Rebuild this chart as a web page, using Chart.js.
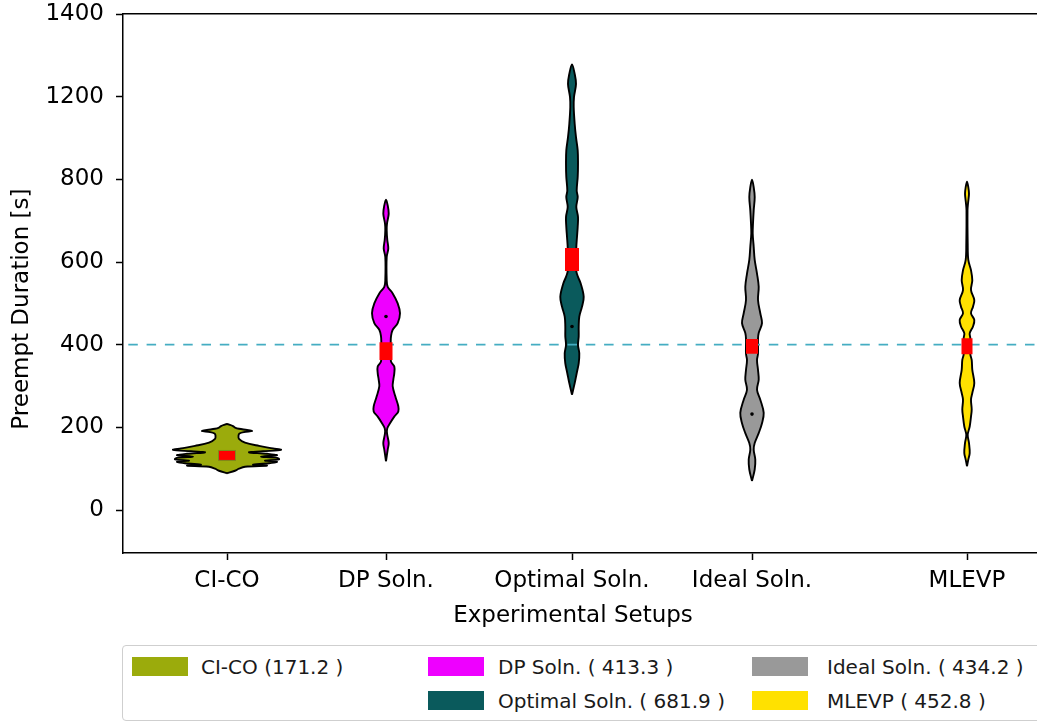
<!DOCTYPE html>
<html><head><meta charset="utf-8">
<script src="https://cdn.jsdelivr.net/npm/chart.js@4/dist/chart.umd.min.js"></script>
<style>
html,body{margin:0;padding:0;background:#fff;overflow:hidden;width:1037px;height:723px;}
#wrap{position:absolute;left:0;top:0;width:1050px;height:640px;}
#legend{position:absolute;left:122px;top:645px;width:940px;height:76px;border:1px solid #cfcfcf;border-radius:4px;box-sizing:border-box;font-family:'DejaVu Sans';font-size:20px;color:#1a1a1a;background:#fff;}
.sw{position:absolute;width:56px;height:19px;}
.lt{position:absolute;white-space:nowrap;line-height:24px;}
</style></head><body>
<div id="wrap"><canvas id="c" width="1050" height="640"></canvas></div>
<div id="legend"></div>
<script>
// ---------------- data ----------------
const categories = ['CI-CO', 'DP Soln.', 'Optimal Soln.', 'Ideal Soln.', 'MLEVP'];
const legendLabels = ['CI-CO (171.2 )', 'DP Soln. ( 413.3 )', 'Optimal Soln. ( 681.9 )', 'Ideal Soln. ( 434.2 )', 'MLEVP ( 452.8 )'];
const yTickValues = [0, 200, 400, 600, 800, 1000, 1200];
const yTickLabels = ['0', '200', '400', '600', '800', '1200', '1400'];
const threshold = 400;

// violin profiles: [value, half-width of density], top to bottom
const violinCICO = [[208,0],[206,3],[203,6],[199.5,8],[196.5,12],[193.5,20],[191,25],[188.5,17],[185,12.5],[180,11.5],[172,12],[163,18],[155,32],[149,46],[145.5,54],[142,36],[139.5,22],[136,40],[132.5,50],[129,34],[126,50],[122.5,52],[119.5,38],[116.5,50],[113,42],[110,26],[107.5,40],[104.5,18],[100,12],[95,8],[89,0]];
const violinDP = [[751,0],[737,1.7],[717,2.7],[693,1],[677,0.7],[653,1.3],[633,2.3],[612,0.7],[556,0.7],[540,1.7],[524,6.7],[500,11.7],[476,14],[452,11.7],[436,6.7],[420,5],[406,4.7],[379,4.7],[359,5],[347,8.3],[331,8.3],[315,7.3],[299,6.7],[275,9.3],[251,12.3],[238,12.3],[226,8.3],[210,4],[198,1.3],[186,1],[162,2.7],[146,1.7],[118,0]];
const violinOptimal = [[1078,0],[1055,2.7],[1031,4],[999,2],[975,1.7],[934,2.7],[902,4],[870,5.7],[838,6],[806,5.7],[773,4.7],[757,5.7],[733,4.3],[709,6],[685,5.7],[661,5],[634,4.3],[578,4.3],[564,6],[548,8.7],[516,11.7],[492,10],[468,7.3],[444,6.7],[420,6.7],[399,6],[379,7.3],[355,6.7],[331,4.7],[307,2.7],[279,0]];
const violinIdeal = [[799,0],[781,1.7],[757,2.7],[725,1.7],[693,1],[669,0.7],[637,1.7],[605,2.7],[572,5],[540,6.7],[508,6],[476,8.3],[452,10],[428,6.7],[414,6],[378,6],[363,5],[339,6],[315,6.7],[291,5],[267,8.3],[235,11.7],[210,10],[186,6.7],[162,2.7],[146,1.7],[122,3.3],[98,2.7],[70,0]];
const violinMLEVP = [[794,0],[781,1.3],[765,2],[741,1],[725,0.5],[645,0.7],[605,1.3],[580,4],[556,5.3],[532,4],[508,7.3],[492,6],[476,4],[460,7.3],[444,6],[428,2.7],[416,3.3],[377,3.3],[363,4.7],[339,5.3],[307,7.3],[283,5.3],[267,4],[243,4.7],[226,4],[202,2.7],[182,0.7],[162,2],[138,2.7],[122,1.3],[106,0]];

const boxLow  = [120, 363, 578, 378, 377];
const boxHigh = [144, 406, 634, 414, 415.5];
const medians = [null, 468, 444, 232, null];

// ---------------- layout / style ----------------
const xPos = [104, 263, 449, 629, 844];      // category centres on the x axis
const boxHalf = [8.5, 6.5, 7, 6, 5.5];
const colors = ['#9bab0c', '#ee00ff', '#0a5a5c', '#999999', '#ffe100'];
const profiles = [violinCICO, violinDP, violinOptimal, violinIdeal, violinMLEVP];

Chart.defaults.font.family = "'DejaVu Sans', sans-serif";
Chart.defaults.color = '#000';

const datasets = [];
profiles.forEach((prof, i) => {
  const c = xPos[i];
  const left = prof.slice().reverse().map(([y, w]) => ({x: c - w, y}));
  const right = prof.slice(1).map(([y, w]) => ({x: c + w, y}));
  datasets.push({
    label: categories[i], data: left.concat(right), fill: 'shape',
    backgroundColor: colors[i], borderColor: '#000', borderWidth: 1.9,
    pointRadius: 0, tension: 0.35, order: 10
  });
});
datasets.push({
  label: 'threshold', data: [{x: 0, y: threshold}, {x: 922, y: threshold}],
  borderColor: '#45adc2', borderWidth: 1.6, borderDash: [9.5, 8.8], borderDashOffset: 13,
  pointRadius: 0, fill: false, order: 5
});
boxLow.forEach((lo, i) => {
  const c = xPos[i], h = boxHalf[i], hi = boxHigh[i];
  datasets.push({
    label: 'box ' + categories[i],
    data: [{x: c - h, y: lo}, {x: c - h, y: hi}, {x: c + h, y: hi}, {x: c + h, y: lo}, {x: c - h, y: lo}],
    fill: 'shape', backgroundColor: '#ff0000',
    borderColor: i === 0 ? '#7d8c1a' : '#ff0000', borderWidth: i === 0 ? 1 : 0,
    pointRadius: 0, tension: 0, order: 2
  });
});
datasets.push({
  label: 'median',
  data: medians.map((m, i) => m === null ? null : {x: xPos[i], y: m}).filter(p => p),
  showLine: false, pointRadius: 1.8, pointBackgroundColor: '#000', pointBorderWidth: 0, order: 1
});

new Chart(document.getElementById('c'), {
  type: 'line',
  data: {datasets},
  options: {
    responsive: false, animation: false,
    layout: {padding: {left: 0, right: 5, top: 0, bottom: 6}},
    plugins: {legend: {display: false}, tooltip: {enabled: false}},
    scales: {
      x: {
        type: 'linear', min: 0, max: 922,
        afterBuildTicks: s => { s.ticks = xPos.map(v => ({value: v})); },
        afterFit: s => { s.height = 81; s.paddingLeft = 0; s.paddingRight = 0; },
        ticks: {autoSkip: false, maxRotation: 0, padding: 7, color: '#000', font: {size: 23},
                callback: (v, i) => categories[i]},
        grid: {drawOnChartArea: false, drawTicks: true, tickLength: 7, tickColor: '#000', tickWidth: 1.5},
        border: {display: true, color: '#000', width: 1.5},
        title: {display: true, text: 'Experimental Setups   ', color: '#000', font: {size: 23}, padding: {top: 0, bottom: 4}}
      },
      x2: {
        type: 'linear', position: 'top', min: 0, max: 1,
        afterFit: s => { s.height = 0; s.paddingLeft = 0; s.paddingRight = 0; },
        ticks: {display: false},
        grid: {drawOnChartArea: false, drawTicks: false},
        border: {display: true, color: '#000', width: 1.5}
      },
      y: {
        type: 'linear', min: -104, max: 1200,
        afterBuildTicks: s => { s.ticks = yTickValues.map(v => ({value: v})); },
        afterFit: s => { s.width = 123; s.paddingTop = 14; s.paddingBottom = 0; },
        ticks: {padding: 12, color: '#000', font: {size: 23}, autoSkip: false,
                callback: (v, i) => yTickLabels[i]},
        grid: {drawOnChartArea: false, drawTicks: true, tickLength: 7, tickColor: '#000', tickWidth: 1.5},
        border: {display: true, color: '#000', width: 1.5},
        title: {display: true, text: 'Preempt Duration [s]       ', color: '#000', font: {size: 23}, padding: {top: 8, bottom: 0}}
      }
    }
  }
});

// ---------------- legend (HTML) ----------------
const legendSlots = [[9, 11, 78, 9], [305, 11, 375, 9], [305, 45, 375, 43], [629, 11, 704, 9], [629, 45, 704, 43]];
const lg = document.getElementById('legend');
legendLabels.forEach((t, i) => {
  const [sx, sy, tx, ty] = legendSlots[i];
  const sw = document.createElement('div');
  sw.className = 'sw'; sw.style.left = sx + 'px'; sw.style.top = sy + 'px'; sw.style.background = colors[i];
  const tt = document.createElement('div');
  tt.className = 'lt'; tt.style.left = tx + 'px'; tt.style.top = ty + 'px'; tt.textContent = t;
  lg.appendChild(sw); lg.appendChild(tt);
});
</script></body></html>
